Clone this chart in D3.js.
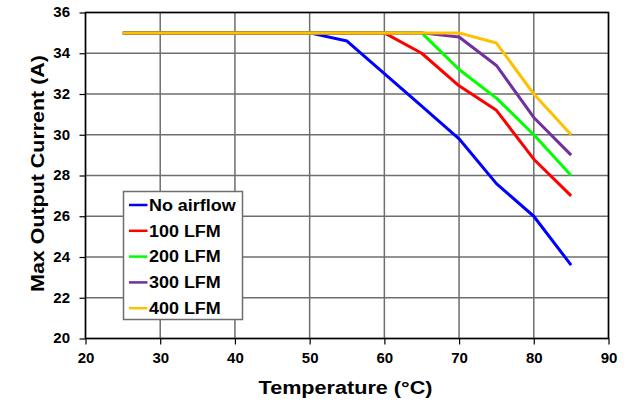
<!DOCTYPE html>
<html>
<head>
<meta charset="utf-8" />
<title>Max Output Current vs Temperature</title>
<script src="https://cdn.jsdelivr.net/npm/d3@7/dist/d3.min.js"></script>
<style>
body { margin: 0; background: #fff; }
text { font-family: "Liberation Sans", Arial, sans-serif; font-weight: bold; fill: #000; }
</style>
</head>
<body>
<div id="chart"></div>
<script>
// values
const temps = [25, 50, 55, 60, 65, 70, 75, 80, 85];
const seriesNames = ["No airflow", "100 LFM", "200 LFM", "300 LFM", "400 LFM"];
const noAirflow = [35, 35, 34.6, 33.0, 31.4, 29.8, 27.6, 26.0, 23.6];
const lfm100 = [35, 35, 35, 35, 34.0, 32.4, 31.2, 28.8, 27.0];
const lfm200 = [35, 35, 35, 35, 35, 33.2, 31.8, 30.0, 28.0];
const lfm300 = [35, 35, 35, 35, 35, 34.8, 33.4, 30.85, 29.0];
const lfm400 = [35, 35, 35, 35, 35, 35, 34.5, 32.0, 30.0];
const colors = ["#0000ff", "#ff0000", "#00ff00", "#7030a0", "#ffc000"];
const xTicks = [20, 30, 40, 50, 60, 70, 80, 90];
const yTicks = [20, 22, 24, 26, 28, 30, 32, 34, 36];

const width = 629, height = 406;
const margin = {top: 12.5, right: 20.5, bottom: 67.5, left: 85.5};
const w = width - margin.left - margin.right;
const h = height - margin.top - margin.bottom;

// the original text is a bit wider than Arial, stretch it along the baseline
function stretch(sel, k) {
	sel.each(function() {
		const len = this.getComputedTextLength();
		d3.select(this).attr("textLength", len * k).attr("lengthAdjust", "spacingAndGlyphs");
	});
}

const svg = d3.select("#chart").append("svg")
	.attr("width", width)
	.attr("height", height);
const g = svg.append("g")
	.attr("transform", "translate(" + margin.left + "," + margin.top + ")");

const x = d3.scaleLinear().domain([20, 90]).range([0, w]);
const y = d3.scaleLinear().domain([20, 36]).range([h, 0]);

// grid
g.append("g").selectAll("line")
	.data(xTicks)
	.enter().append("line")
		.attr("x1", d => x(d)).attr("x2", d => x(d))
		.attr("y1", 0).attr("y2", h)
		.attr("stroke", "#6e6e6e").attr("stroke-width", 1.5);
g.append("g").selectAll("line")
	.data(yTicks)
	.enter().append("line")
		.attr("x1", 0).attr("x2", w)
		.attr("y1", d => y(d)).attr("y2", d => y(d))
		.attr("stroke", "#6e6e6e").attr("stroke-width", 1.5);

// axes
const xAxis = g.append("g")
	.attr("transform", "translate(0," + h + ")")
	.call(d3.axisBottom(x).tickValues(xTicks).tickSize(6).tickPadding(9));
const yAxis = g.append("g")
	.call(d3.axisLeft(y).tickValues(yTicks).tickSize(6).tickPadding(9.5));
[xAxis, yAxis].forEach(a => {
	a.selectAll("text").style("font-size", "14px").call(stretch, 1.07);
	a.select(".domain").remove();
	a.selectAll("line").attr("stroke", "#000").attr("stroke-width", 1.2);
});

// frame
g.append("rect")
	.attr("width", w).attr("height", h)
	.attr("fill", "none").attr("stroke", "#000").attr("stroke-width", 1.5);

// lines
const allSeries = [noAirflow, lfm100, lfm200, lfm300, lfm400];
const line = d3.line().x((d, i) => x(temps[i])).y(d => y(d));
g.append("g").selectAll("path")
	.data(allSeries)
	.enter().append("path")
		.attr("d", line)
		.attr("fill", "none")
		.attr("stroke", (d, i) => colors[i])
		.attr("stroke-width", 3)
		.attr("stroke-linejoin", "round");

// legend
const legend = svg.append("g").attr("transform", "translate(123.5,191.5)");
legend.append("rect")
	.attr("width", 119).attr("height", 128)
	.attr("fill", "#fff").attr("stroke", "#6e6e6e").attr("stroke-width", 1.5);
const items = legend.selectAll("g.item")
	.data(seriesNames)
	.enter().append("g")
		.attr("class", "item")
		.attr("transform", (d, i) => "translate(0," + (13.5 + i * 25.8) + ")");
items.append("line")
	.attr("x1", 5.5).attr("x2", 24)
	.attr("stroke", (d, i) => colors[i]).attr("stroke-width", 2.5);
items.append("text")
	.attr("x", 25.5).attr("dy", "0.36em")
	.style("font-size", "16px")
	.text(d => d)
	.call(stretch, 1.12);

// axis titles
svg.append("text")
	.attr("x", 345.5).attr("y", 394)
	.attr("text-anchor", "middle")
	.style("font-size", "18px")
	.text("Temperature (°C)")
	.call(stretch, 1.2);
svg.append("text")
	.attr("transform", "translate(43.5,173.5) rotate(-90)")
	.attr("text-anchor", "middle")
	.style("font-size", "18px")
	.text("Max Output Current (A)")
	.call(stretch, 1.19);
</script>
</body>
</html>
